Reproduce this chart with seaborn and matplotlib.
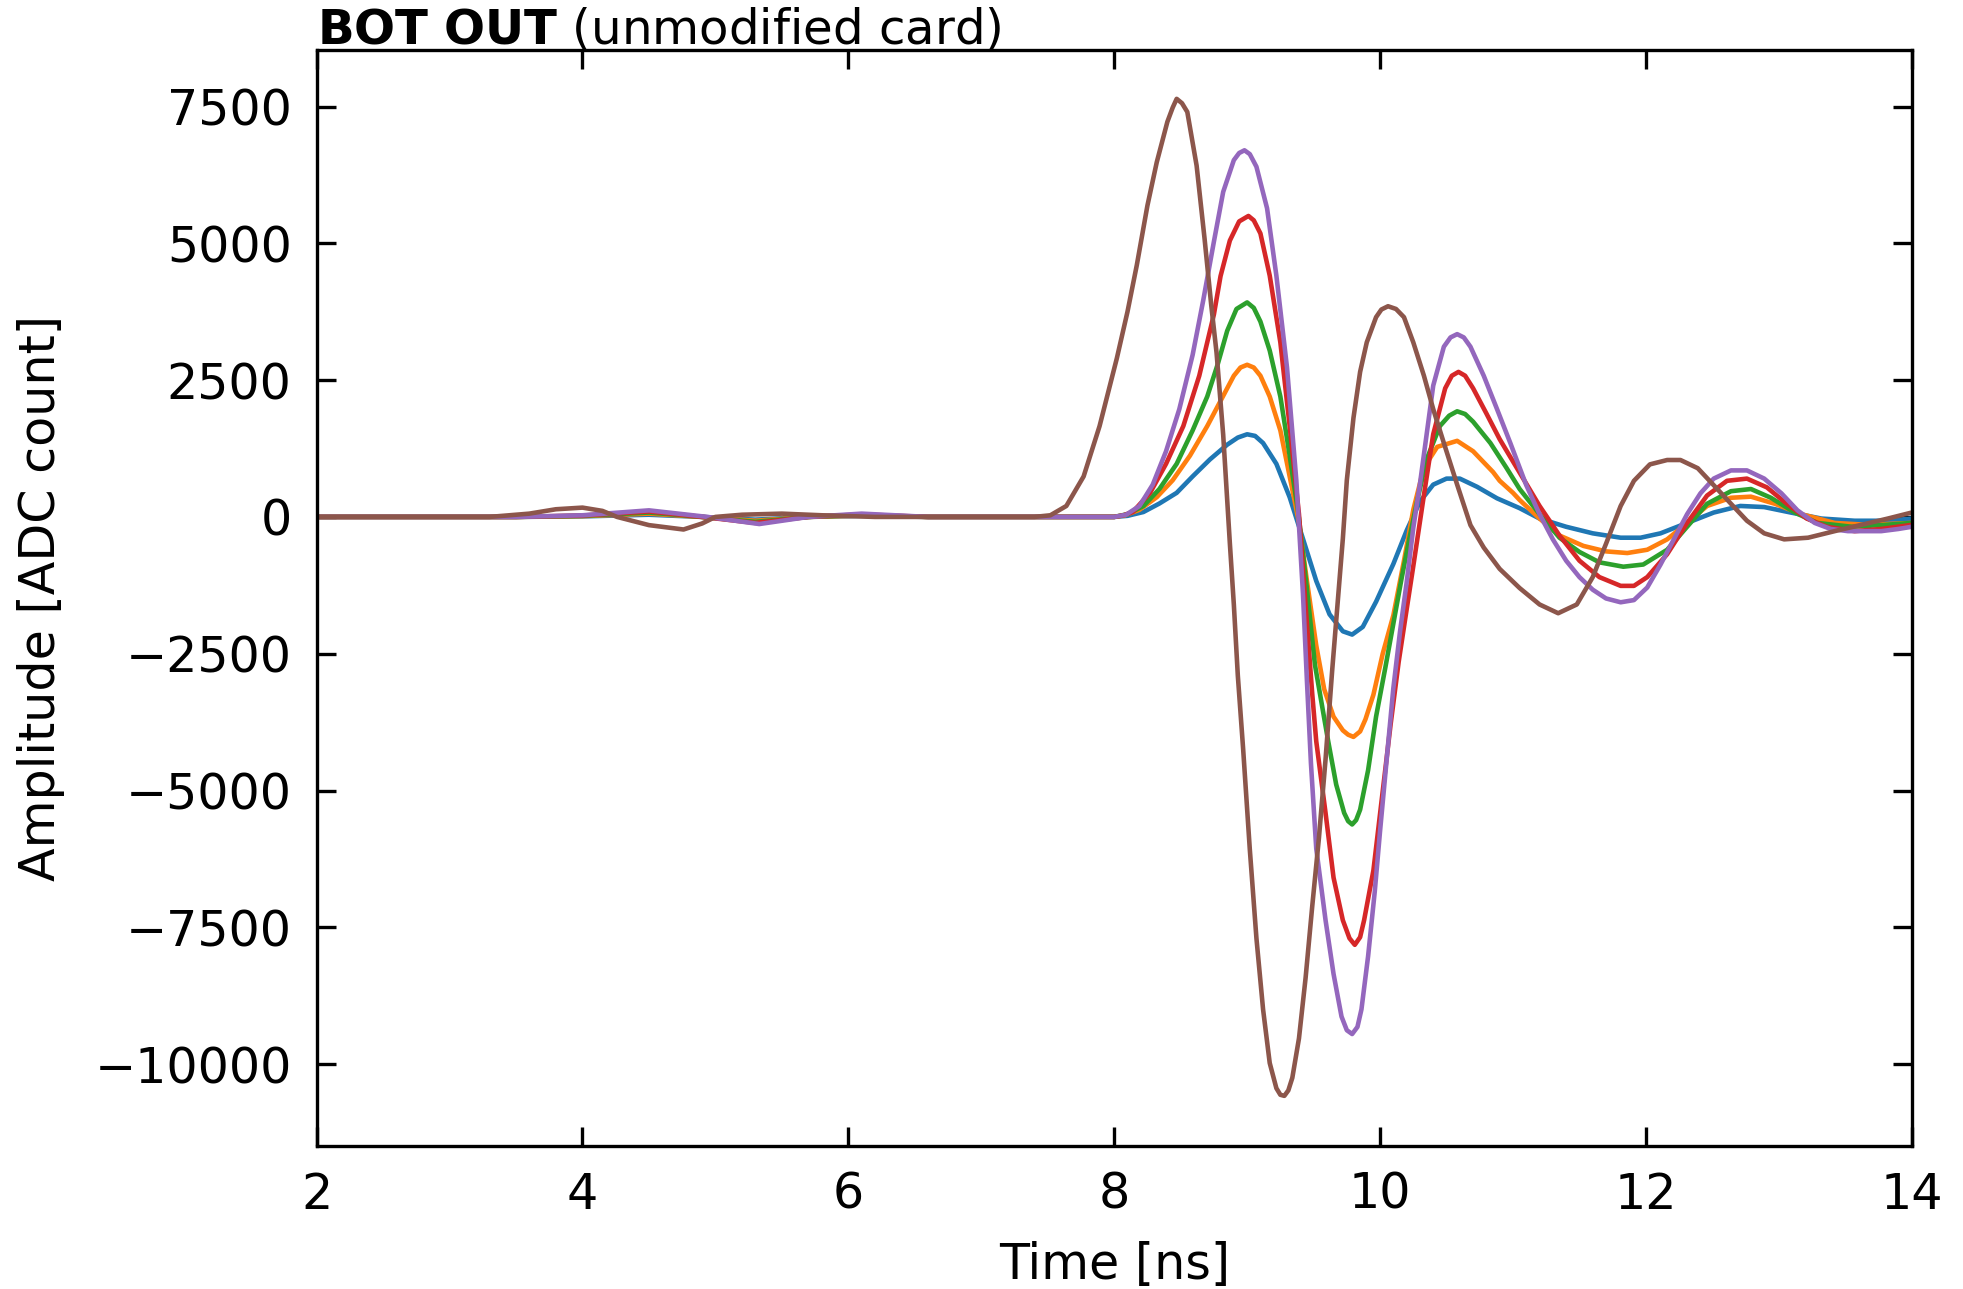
import numpy as np
import pandas as pd
import matplotlib
matplotlib.use("Agg")
import matplotlib.pyplot as plt
import seaborn as sns

# ---------------- data ----------------
trace_names = ["trace 1", "trace 2", "trace 3", "trace 4", "trace 5", "trace 6"]
trace_colors = ["#1f77b4", "#ff7f0e", "#2ca02c", "#d62728", "#9467bd", "#8c564b"]

t_trace1 = [2.0, 3.5, 4.0, 4.5, 4.9, 5.3, 5.7, 6.1, 6.6, 7.5, 8.0, 8.1, 8.22, 8.34, 8.47,
            8.59, 8.72, 8.85, 8.93, 9.0, 9.06, 9.12, 9.22, 9.32, 9.42, 9.52, 9.62, 9.72,
            9.79, 9.87, 9.97, 10.1, 10.2, 10.3, 10.4, 10.5, 10.6, 10.73, 10.88, 11.05,
            11.2, 11.4, 11.6, 11.81, 11.96, 12.11, 12.31, 12.51, 12.71, 12.89, 13.09,
            13.32, 13.57, 13.82, 14.0]
v_trace1 = [0, 0, 10, 40, 0, -50, 0, 20, 0, 0, 0, 20, 90, 245, 440,
            740, 1050, 1320, 1450, 1510, 1480, 1350, 970, 360, -400, -1170, -1780, -2090,
            -2150, -2010, -1550, -860, -250, 280, 590, 700, 700, 550, 340, 160,
            -30, -180, -300, -380, -380, -300, -110, 80, 200, 180, 80,
            -30, -70, -70, -30]

t_trace2 = [2.0, 3.5, 4.0, 4.5, 4.9, 5.3, 5.7, 6.1, 6.6, 7.5, 8.0, 8.08, 8.19, 8.32, 8.44,
            8.57, 8.70, 8.80, 8.90, 8.95, 9.0, 9.05, 9.10, 9.17, 9.25, 9.32, 9.39, 9.45,
            9.52, 9.58, 9.65, 9.72, 9.76, 9.80, 9.85, 9.89, 9.95, 10.02, 10.10, 10.18,
            10.25, 10.33, 10.43, 10.58, 10.70, 10.85, 10.90, 11.0, 11.05, 11.2, 11.35,
            11.53, 11.70, 11.86, 12.01, 12.16, 12.31, 12.46, 12.64, 12.79, 12.97, 13.17,
            13.42, 13.67, 14.0]
v_trace2 = [0, 0, 15, 60, 0, -70, 0, 25, 0, 0, 0, 30, 130, 360, 670,
            1120, 1660, 2120, 2580, 2730, 2780, 2730, 2580, 2200, 1580, 740, -100, -1170,
            -2350, -3150, -3650, -3900, -3980, -4020, -3920, -3700, -3250, -2500, -1800, -800,
            130, 900, 1280, 1390, 1200, 820, 660, 440, 310, -30, -340,
            -530, -630, -660, -600, -410, -110, 200, 350, 370, 240, 50,
            -110, -145, -110]

t_trace3 = [2.0, 3.5, 4.0, 4.5, 4.9, 5.3, 5.7, 6.1, 6.6, 7.5, 8.0, 8.1, 8.22, 8.34, 8.47,
            8.59, 8.70, 8.78, 8.85, 8.92, 9.0, 9.05, 9.10, 9.17, 9.25, 9.32, 9.39, 9.45,
            9.51, 9.56, 9.61, 9.67, 9.73, 9.76, 9.79, 9.82, 9.85, 9.91, 9.97, 10.04,
            10.10, 10.16, 10.22, 10.28, 10.35, 10.45, 10.52, 10.58, 10.64, 10.70, 10.83,
            10.95, 11.05, 11.2, 11.35, 11.5, 11.65, 11.83, 11.98, 12.16, 12.31, 12.46,
            12.64, 12.79, 12.94, 13.12, 13.29, 13.55, 13.8, 14.0]
v_trace3 = [0, 0, 20, 80, 0, -90, 0, 35, 0, 0, 0, 50, 200, 510, 970,
            1580, 2200, 2800, 3400, 3800, 3920, 3820, 3570, 3040, 2200, 1120, -20, -1320,
            -2700, -3400, -4100, -4890, -5410, -5560, -5620, -5540, -5350, -4630, -3650, -2750,
            -1950, -1150, -400, 300, 1050, 1660, 1850, 1930, 1880, 1740, 1350,
            900, 510, 50, -380, -640, -830, -910, -870, -600, -180, 240,
            470, 510, 350, 80, -110, -180, -145, -110]

t_trace4 = [2.0, 3.5, 4.0, 4.5, 4.9, 5.3, 5.7, 6.1, 6.6, 7.5, 8.0, 8.07, 8.14, 8.27, 8.39,
            8.52, 8.64, 8.75, 8.80, 8.87, 8.94, 9.01, 9.05, 9.10, 9.17, 9.25, 9.32, 9.39,
            9.44, 9.49, 9.52, 9.59, 9.65, 9.72, 9.77, 9.81, 9.85, 9.88, 9.95, 10.01,
            10.08, 10.14, 10.19, 10.25, 10.33, 10.40, 10.49, 10.54, 10.59, 10.64, 10.70,
            10.80, 10.90, 11.05, 11.2, 11.35, 11.5, 11.65, 11.81, 11.91, 12.01, 12.16,
            12.31, 12.46, 12.61, 12.76, 12.91, 13.06, 13.21, 13.36, 13.57, 13.77, 14.0]
v_trace4 = [0, 0, 25, 100, 0, -110, 0, 45, 0, 0, 0, 30, 90, 440, 970,
            1660, 2580, 3700, 4400, 5050, 5400, 5500, 5420, 5180, 4410, 3190, 1660, 50,
            -1630, -3240, -4100, -5410, -6590, -7370, -7700, -7820, -7680, -7370, -6460, -5220,
            -3780, -2650, -1850, -900, 400, 1510, 2350, 2580, 2650, 2580, 2350,
            1890, 1420, 810, 200, -340, -800, -1100, -1260, -1260, -1100, -680,
            -110, 390, 660, 700, 540, 240, -30, -180, -260, -220, -145]

t_trace5 = [2.0, 3.5, 4.0, 4.5, 4.94, 5.33, 5.7, 6.1, 6.6, 7.5, 8.0, 8.09, 8.19, 8.29, 8.39,
            8.49, 8.59, 8.67, 8.75, 8.82, 8.90, 8.94, 8.98, 9.02, 9.07, 9.15, 9.22, 9.30,
            9.37, 9.42, 9.45, 9.48, 9.52, 9.59, 9.65, 9.71, 9.75, 9.79, 9.83, 9.86,
            9.91, 9.96, 10.0, 10.05, 10.10, 10.15, 10.20, 10.25, 10.30, 10.35, 10.40,
            10.48, 10.53, 10.58, 10.63, 10.68, 10.78, 10.88, 10.98, 11.05, 11.10, 11.20,
            11.30, 11.40, 11.50, 11.60, 11.70, 11.81, 11.91, 12.01, 12.11, 12.21, 12.31,
            12.41, 12.51, 12.64, 12.76, 12.89, 13.02, 13.14, 13.27, 13.39, 13.52, 13.77,
            13.90, 14.0]
v_trace5 = [0, 0, 30, 120, 0, -130, 0, 60, 0, 0, 0, 40, 200, 590, 1200,
            1970, 2960, 3960, 5030, 5940, 6520, 6650, 6700, 6630, 6400, 5640, 4410, 2730,
            670, -1400, -3000, -4500, -6060, -7370, -8350, -9130, -9380, -9450, -9320, -9000,
            -8030, -6850, -5740, -4430, -3130, -2100, -1200, -200, 600, 1500, 2400,
            3110, 3280, 3340, 3280, 3110, 2580, 1970, 1350, 900, 580, 50,
            -410, -800, -1100, -1330, -1490, -1560, -1520, -1290, -870, -410, 50,
            430, 700, 850, 850, 700, 430, 120, -110, -220, -260, -260,
            -220, -180]

t_trace6 = [2.0, 3.3, 3.6, 3.8, 4.0, 4.15, 4.26, 4.5, 4.76, 4.9, 5.0, 5.2, 5.5, 5.8, 6.2,
            7.4, 7.52, 7.64, 7.77, 7.89, 8.02, 8.10, 8.17, 8.25, 8.32, 8.40, 8.44, 8.47,
            8.51, 8.55, 8.62, 8.68, 8.73, 8.77, 8.82, 8.87, 8.90, 8.93, 8.97, 9.02,
            9.07, 9.12, 9.17, 9.22, 9.25, 9.28, 9.31, 9.34, 9.39, 9.44, 9.49, 9.54,
            9.59, 9.64, 9.68, 9.72, 9.75, 9.80, 9.85, 9.90, 9.97, 10.01, 10.06, 10.12,
            10.18, 10.25, 10.33, 10.40, 10.48, 10.58, 10.68, 10.78, 10.90, 11.05, 11.2,
            11.34, 11.48, 11.60, 11.70, 11.81, 11.91, 12.03, 12.16, 12.26, 12.39, 12.51,
            12.64, 12.76, 12.89, 13.04, 13.22, 13.42, 13.62, 13.82, 14.0]
v_trace6 = [0, 0, 60, 140, 170, 110, 0, -150, -230, -120, 0, 40, 60, 30, 0,
            0, 30, 200, 740, 1660, 2900, 3750, 4600, 5690, 6480, 7220, 7480, 7640,
            7560, 7400, 6420, 5080, 3870, 3000, 1500, -480, -1600, -2900, -4240, -6070,
            -7700, -9000, -9980, -10440, -10560, -10580, -10480, -10250, -9530, -8420, -7110, -5870,
            -4430, -2800, -1600, -400, 670, 1810, 2650, 3190, 3650, 3790, 3850, 3800,
            3650, 3190, 2580, 1970, 1350, 590, -150, -560, -950, -1300, -1600,
            -1760, -1600, -1100, -490, 200, 660, 960, 1040, 1040, 890, 580,
            240, -70, -300, -410, -380, -260, -145, -30, 80]

x_ticks = [2, 4, 6, 8, 10, 12, 14]
y_ticks = [-10000, -7500, -5000, -2500, 0, 2500, 5000, 7500]

# ---------------- build table ----------------
all_t = [t_trace1, t_trace2, t_trace3, t_trace4, t_trace5, t_trace6]
all_v = [v_trace1, v_trace2, v_trace3, v_trace4, v_trace5, v_trace6]
frames = []
for name, t, v in zip(trace_names, all_t, all_v):
    frames.append(pd.DataFrame({"Time": t, "Amplitude": v, "trace": name}))
df = pd.concat(frames, ignore_index=True)

# ---------------- plot ----------------
FS = 11.8
plt.rcParams["font.family"] = ["DejaVu Sans"]
plt.rcParams["axes.linewidth"] = 0.8

fig = plt.figure(figsize=(1963 / 300, 1289 / 300), dpi=300)
ax = fig.add_axes([0.1613, 0.1112, 0.9739 - 0.1613, 0.9611 - 0.1112])

sns.lineplot(data=df, x="Time", y="Amplitude", hue="trace",
             hue_order=trace_names, palette=trace_colors,
             linewidth=1.1, legend=False, estimator=None, ax=ax)

ax.set_xlim(2, 14)
ax.set_ylim(-11490, 8530)
ax.set_xticks(x_ticks)
ax.set_yticks(y_ticks)
ax.tick_params(direction="in", top=True, right=True, length=4.5, width=0.8,
               labelsize=FS, pad=6, colors="black")
for s in ax.spines.values():
    s.set_color("black")
    s.set_linewidth(0.8)

ax.set_xlabel("Time [ns]", fontsize=FS, labelpad=5.3)
ax.set_ylabel("Amplitude [ADC count]", fontsize=FS, labelpad=7)
ax.set_title(r"$\bf{BOT\ OUT}$ (unmodified card)", loc="left", fontsize=11.6, pad=1.5)

fig.savefig("out.png", dpi=300)
